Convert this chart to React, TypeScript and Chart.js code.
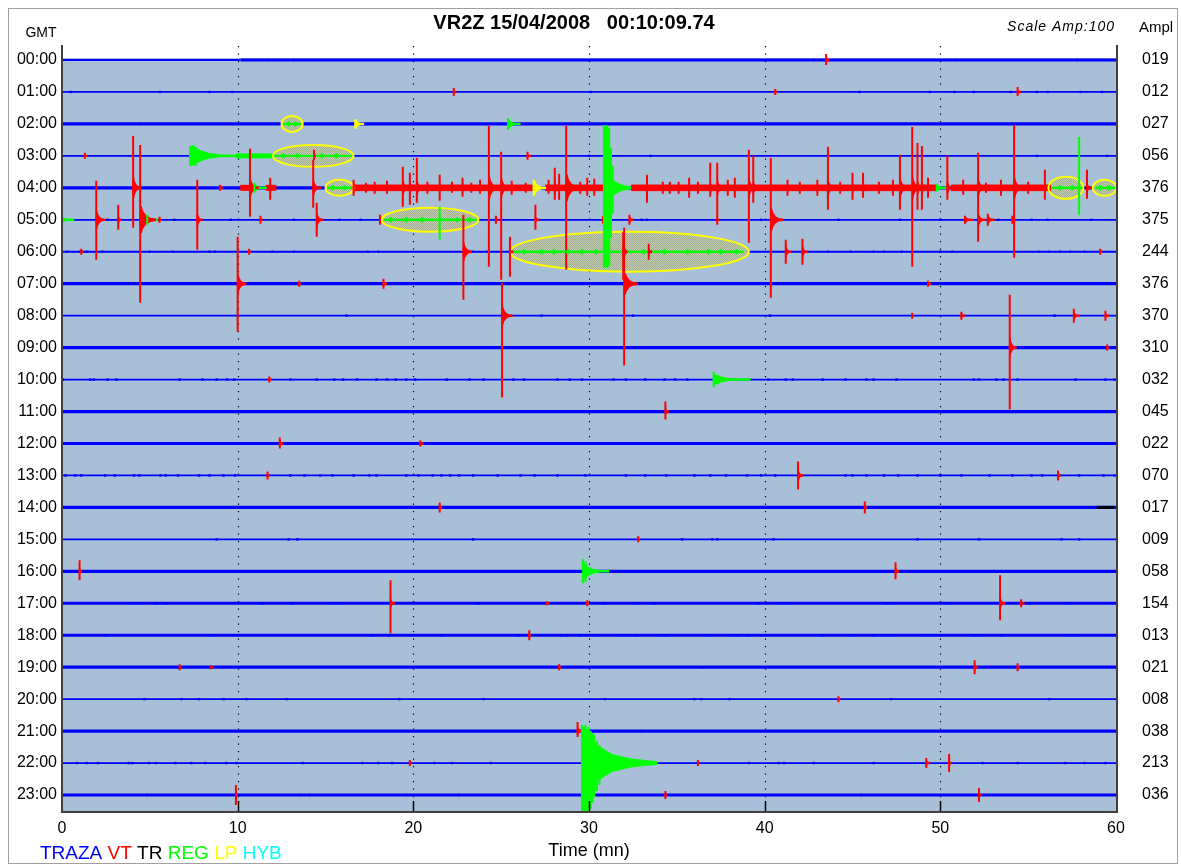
import React, { useEffect, useRef } from "react";
import { Chart, registerables } from "chart.js";

Chart.register(...registerables);

// ---------------- data ----------------
const station = "VR2Z";
const recordDate = "15/04/2008";
const recordStart = "00:10:09.74";
const scaleAmpText = "Scale Amp:100";

const hourLabels = [
  "00:00", "01:00", "02:00", "03:00", "04:00", "05:00", "06:00", "07:00",
  "08:00", "09:00", "10:00", "11:00", "12:00", "13:00", "14:00", "15:00",
  "16:00", "17:00", "18:00", "19:00", "20:00", "21:00", "22:00", "23:00",
];
const amplLabels = [
  "019", "012", "027", "056", "376", "375", "244", "376", "370", "310", "032", "045",
  "022", "070", "017", "009", "058", "154", "013", "021", "008", "038", "213", "036",
];
const timeTicks = [0, 10, 20, 30, 40, 50, 60];
const minuteGuides = [10, 20, 30, 40, 50];
const firstTraceStart = 10 + 9.74 / 60; // record starts 00:10:09.74
const quietRows = [0, 2, 4, 7, 9, 11, 12, 14, 16, 17, 18, 19, 21, 23];

const legendWords = ["TRAZA", "VT", "TR", "REG", "LP", "HYB"];

// events: [row, minute, up, down, coda, codaMinutes]  (amplitudes in trace units, 32 = one row)
const vtEvents = [
  [0, 43.5, 6, 5, 4, 0.2],
  [1, 22.3, 4, 4, 3, 0.15], [1, 40.6, 3, 3, 2, 0.12], [1, 54.4, 5, 4, 3, 0.2],
  [3, 1.3, 3, 3, 3, 0.12], [3, 14.35, 6, 4, 3, 0.1], [3, 26.5, 4, 4, 3, 0.2],
  [4, 4.05, 52, 40, 12, 0.45], [4, 9.0, 3, 3, 3, 0.15], [4, 10.7, 39, 29, 10, 0.5],
  [4, 11.85, 10, 12, 6, 0.3], [4, 14.3, 28, 20, 8, 0.45],
  [4, 16.6, 8, 8, 6, 0.3], [4, 17.3, 5, 5, 4, 0.2], [4, 17.8, 6, 6, 5, 0.2], [4, 18.5, 7, 6, 5, 0.2],
  [4, 19.4, 21, 19, 8, 0.4], [4, 19.8, 15, 17, 7, 0.3], [4, 20.2, 30, 15, 8, 0.4],
  [4, 20.8, 6, 6, 5, 0.2], [4, 21.5, 13, 13, 6, 0.3], [4, 22.2, 6, 5, 5, 0.2],
  [4, 22.8, 10, 9, 5, 0.3], [4, 23.3, 5, 5, 4, 0.2], [4, 23.8, 8, 6, 5, 0.2],
  [4, 24.3, 62, 79, 12, 0.6], [4, 25.0, 36, 92, 10, 0.5], [4, 25.6, 7, 7, 5, 0.2],
  [4, 26.4, 5, 5, 4, 0.2], [4, 27.7, 8, 6, 5, 0.2], [4, 28.05, 20, 12, 8, 0.3],
  [4, 28.3, 14, 12, 6, 0.2], [4, 28.7, 62, 82, 14, 0.8], [4, 29.5, 6, 6, 5, 0.2],
  [4, 29.9, 10, 8, 5, 0.2], [4, 30.3, 9, 8, 5, 0.2],
  [4, 33.3, 13, 15, 6, 0.3], [4, 34.2, 6, 6, 5, 0.2], [4, 34.6, 6, 6, 5, 0.2],
  [4, 35.1, 6, 6, 5, 0.2], [4, 35.7, 10, 10, 6, 0.2], [4, 36.2, 6, 6, 5, 0.2],
  [4, 36.9, 25, 9, 7, 0.3], [4, 37.3, 25, 32, 8, 0.4], [4, 37.9, 8, 8, 5, 0.2],
  [4, 38.3, 10, 10, 6, 0.2], [4, 39.1, 38, 55, 10, 0.4], [4, 39.35, 32, 15, 8, 0.3],
  [4, 41.3, 8, 8, 5, 0.2], [4, 42.0, 6, 6, 5, 0.2], [4, 43.0, 8, 8, 5, 0.2],
  [4, 43.6, 41, 22, 9, 0.4], [4, 44.3, 6, 6, 5, 0.2], [4, 45.0, 15, 12, 6, 0.3], [4, 45.6, 15, 10, 6, 0.3],
  [4, 46.5, 6, 6, 5, 0.2], [4, 47.3, 8, 8, 5, 0.2], [4, 47.7, 33, 22, 10, 0.5],
  [4, 48.4, 61, 79, 12, 0.5], [4, 48.7, 45, 22, 8, 0.3], [4, 48.95, 42, 22, 8, 0.3],
  [4, 49.3, 10, 10, 6, 0.3], [4, 50.4, 32, 12, 8, 0.3], [4, 51.3, 8, 7, 5, 0.2],
  [4, 52.15, 35, 15, 10, 0.4], [4, 52.6, 5, 5, 5, 0.3], [4, 53.45, 8, 8, 5, 0.2],
  [4, 54.2, 63, 70, 12, 0.5], [4, 55.0, 6, 6, 5, 0.3], [4, 55.95, 18, 12, 6, 0.2],
  [4, 58.35, 18, 11, 6, 0.25],
  [5, 1.95, 39, 40, 10, 0.5], [5, 3.2, 15, 10, 6, 0.2], [5, 4.45, 75, 83, 14, 0.9],
  [5, 5.55, 3, 3, 3, 0.1], [5, 7.7, 40, 30, 8, 0.3], [5, 11.3, 4, 4, 3, 0.12],
  [5, 14.5, 17, 17, 7, 0.4], [5, 18.1, 5, 5, 4, 0.12], [5, 24.7, 4, 4, 4, 0.15],
  [5, 26.95, 15, 10, 5, 0.2], [5, 30.8, 4, 4, 4, 0.12], [5, 32.3, 5, 5, 4, 0.25],
  [5, 37.3, 5, 5, 4, 0.12], [5, 40.35, 62, 78, 12, 0.7], [5, 51.4, 4, 4, 4, 0.45],
  [5, 52.15, 17, 22, 7, 0.4], [5, 52.7, 6, 6, 5, 0.4], [5, 54.1, 4, 4, 3, 0.1],
  [6, 1.1, 3, 3, 3, 0.1], [6, 10.65, 3, 3, 3, 0.1], [6, 22.85, 37, 48, 10, 0.5],
  [6, 25.5, 15, 25, 6, 0.2], [6, 31.95, 20, 28, 14, 0.25], [6, 33.4, 8, 8, 5, 0.2],
  [6, 41.2, 12, 12, 7, 0.3], [6, 42.15, 13, 13, 7, 0.3], [6, 59.1, 3, 3, 3, 0.12],
  [7, 10.0, 47, 48, 10, 0.5], [7, 13.5, 3, 3, 3, 0.1], [7, 18.3, 5, 5, 4, 0.2],
  [7, 32.0, 56, 82, 12, 0.8], [7, 49.3, 3, 3, 3, 0.2],
  [8, 25.05, 33, 82, 10, 0.6], [8, 48.4, 3, 3, 3, 0.1], [8, 51.2, 4, 4, 4, 0.2],
  [8, 57.6, 7, 7, 5, 0.3], [8, 59.4, 5, 5, 4, 0.2],
  [9, 53.95, 53, 62, 10, 0.4], [9, 59.5, 3, 3, 3, 0.1],
  [10, 11.8, 3, 3, 3, 0.12],
  [11, 34.35, 10, 8, 5, 0.2],
  [12, 12.4, 6, 5, 4, 0.2], [12, 20.4, 3, 3, 3, 0.2],
  [13, 11.7, 4, 4, 3, 0.12], [13, 41.9, 14, 14, 7, 0.3], [13, 56.7, 5, 5, 3, 0.15],
  [14, 21.5, 5, 5, 4, 0.15], [14, 45.7, 6, 6, 4, 0.15],
  [15, 32.8, 3, 3, 3, 0.1],
  [16, 1.0, 11, 9, 5, 0.15], [16, 47.45, 9, 8, 5, 0.2],
  [17, 18.7, 23, 30, 6, 0.25], [17, 27.6, 2, 2, 3, 0.15], [17, 29.9, 3, 3, 3, 0.1],
  [17, 53.4, 28, 17, 7, 0.3], [17, 54.6, 4, 4, 3, 0.2],
  [18, 26.6, 5, 5, 3, 0.1],
  [19, 6.7, 3, 3, 3, 0.1], [19, 8.5, 2, 2, 3, 0.1], [19, 28.3, 3, 3, 3, 0.1],
  [19, 51.95, 7, 7, 5, 0.2], [19, 54.4, 4, 4, 3, 0.1],
  [20, 44.2, 3, 3, 3, 0.1],
  [21, 29.35, 9, 6, 5, 0.3],
  [22, 19.8, 3, 3, 3, 0.1], [22, 36.2, 3, 3, 3, 0.1], [22, 49.2, 5, 5, 4, 0.2],
  [22, 50.5, 9, 9, 5, 0.15],
  [23, 9.9, 10, 10, 4, 0.12], [23, 34.35, 4, 4, 3, 0.1], [23, 52.2, 7, 7, 5, 0.15],
];

const regEvents = [
  [2, 25.4, 6, 6, 5, 0.7],
  [3, 7.3, 10, 10, 10, 2.6], [3, 7.45, 11, 9, 9, 0.4], [3, 7.6, 9, 10, 8, 0.3],
  [4, 10.95, 5, 5, 4, 0.7],
  [4, 30.85, 63, 80, 22, 1.55], [4, 30.95, 63, 80, 20, 0.3], [4, 31.05, 62, 80, 18, 0.3],
  [4, 31.15, 60, 78, 16, 0.3], [4, 31.25, 40, 50, 12, 0.3], [4, 31.35, 22, 26, 8, 0.3],
  [4, 49.8, 4, 4, 3, 0.8],
  [4, 57.9, 51, 27, 4, 0.2],
  [5, 0.0, 4, 4, 3, 0.7],
  [5, 4.85, 5, 5, 4, 0.6],
  [5, 21.5, 13, 20, 4, 0.15],
  [10, 37.1, 8, 8, 5, 2.1],
  [16, 29.65, 12, 12, 8, 1.5], [16, 29.8, 10, 11, 7, 0.3],
  [22, 29.6, 38, 50, 30, 4.3], [22, 29.7, 36, 50, 30, 0.5], [22, 29.8, 38, 50, 30, 0.5],
  [22, 29.9, 34, 50, 28, 0.5], [22, 30.0, 36, 50, 26, 0.5], [22, 30.1, 32, 46, 24, 0.5],
  [22, 30.2, 30, 40, 22, 0.5], [22, 30.3, 28, 34, 20, 0.5], [22, 30.45, 22, 28, 16, 0.5],
  [22, 30.6, 18, 22, 14, 0.5],
];

const lpEvents = [
  [2, 16.7, 5, 5, 5, 0.5],
  [4, 26.85, 8, 8, 8, 0.7],
];

// continuous segments: [row, fromMinute, toMinute, halfWidth]
const vtBands = [
  [4, 10.15, 11.0, 3], [4, 11.6, 12.2, 3],
  [4, 16.5, 26.8, 3.3], [4, 27.5, 30.85, 3.3], [4, 32.4, 49.75, 3.3], [4, 50.6, 56.3, 3.3],
];
const regTraces = [
  [2, 12.55, 13.65, 1.2], [3, 9.9, 12.0, 2.5], [3, 12.0, 16.6, 1], [4, 15.1, 16.5, 1.2],
  [5, 18.3, 23.6, 1.2], [6, 25.6, 38.8, 1.2], [4, 56.3, 58.1, 1.2], [4, 58.8, 60, 1.2],
];
const trTraces = [[14, 58.9, 59.9, 1.5]];

// marked windows: [row, centreMinute, halfWidthMinutes, halfHeight]
const markedWindows = [
  [2, 13.1, 0.6, 8], [3, 14.3, 2.3, 11], [4, 15.8, 0.8, 8], [5, 20.95, 2.75, 12],
  [6, 32.3, 6.8, 20], [4, 57.15, 1.0, 11], [4, 59.35, 0.68, 8],
];

// small REG wavelets inside marked windows: [row, minute]
const regWavelets = [
  [2, 12.9], [2, 13.3],
  [3, 12.6], [3, 13.4], [3, 14.8], [3, 15.6],
  [4, 15.4], [4, 16.1], [4, 56.8], [4, 57.5], [4, 59.1], [4, 59.6],
  [5, 18.7], [5, 19.6], [5, 20.5], [5, 22.5], [5, 23.2],
  [6, 26.3], [6, 27.3], [6, 28.0], [6, 28.8], [6, 29.6], [6, 30.4], [6, 33.1],
  [6, 34.3], [6, 35.6], [6, 36.8], [6, 37.5], [6, 38.4],
];

// background trace glitches: minutes per row
const blipRows = [0, 1, 2, 3, 5, 6, 8, 9, 10, 11, 12, 13, 14, 15, 17, 18, 19, 20, 21, 22, 23];
const blipMinutes = [
  [11.7, 13.2, 42.8, 50.9, 57.8],
  [0.5, 5.6, 8.4, 9.7, 30.1, 45.4, 49.4, 50.8, 51.9, 54.0, 55.5, 56.1, 58.0, 59.2],
  [4.5],
  [30.0, 33.5, 55.5, 59.5],
  [2.6, 6.4, 9.6, 13.2, 15.8, 17.0, 33.0, 33.3, 39.8, 44.2, 47.7, 50.0, 53.3, 55.2, 56.1, 58.6],
  [0.3, 1.0, 1.4, 2.3, 5.0, 6.3, 8.4, 8.7, 12.0, 13.2, 17.4, 18.0, 23.4, 24.2, 43.6, 44.9,
    46.2, 46.8, 47.8, 50.0, 50.7, 55.6, 56.2, 56.8, 57.4, 58.2],
  [10.0, 16.2, 27.3, 32.5, 40.3, 56.5],
  [32.6],
  [0.05, 1.6, 1.8, 2.6, 3.1, 6.7, 8.0, 8.8, 9.4, 9.8, 13.0, 14.5, 15.5, 16.0, 16.8, 17.9,
    18.5, 19.0, 19.6, 20.1, 21.9, 23.2, 24.0, 25.7, 26.3, 28.2, 28.9, 29.6, 31.4, 32.1, 33.2,
    34.3, 34.9, 35.6, 40.2, 41.2, 41.6, 43.3, 44.6, 45.8, 46.2, 47.5, 51.9, 52.2, 53.2, 53.6,
    54.4, 57.7, 59.4, 59.9],
  [42.9],
  [4.2],
  [0.2, 0.75, 1.1, 2.45, 3.0, 4.1, 4.4, 5.6, 5.9, 6.6, 7.8, 8.4, 9.2, 9.85, 13.0, 13.8, 14.7,
    15.4, 16.6, 17.5, 17.9, 19.6, 20.3, 21.1, 21.6, 22.1, 22.6, 23.4, 24.8, 26.1, 26.9, 28.2,
    29.8, 32.1, 33.2, 34.4, 36.0, 36.9, 37.8, 39.0, 39.8, 40.6, 44.6, 45.0, 45.8, 46.8, 47.6,
    48.7, 50.0, 51.2, 52.8, 54.1, 55.2, 55.8, 57.9, 59.3, 59.9],
  [49.98],
  [8.8, 12.9, 13.4, 23.4, 35.3, 37.0, 37.3, 40.5, 48.7, 52.2, 56.9, 57.9],
  [4.2, 5.3, 5.9, 11.4, 13.1, 15.6, 23.7, 30.8, 32.6, 33.7, 39.7, 41.1, 47.0, 50.5, 55.1, 57.2],
  [2.45, 8.6, 17.7, 18.6, 21.6, 26.0, 28.4, 28.7, 29.5, 30.3, 32.0, 32.7, 34.3, 36.7, 38.4,
    39.1, 39.8, 43.3, 44.9, 46.2, 47.0, 49.3, 50.0, 52.0, 53.5, 57.5],
  [36.5],
  [4.7, 6.8, 7.8, 9.2, 10.5, 12.8, 19.2, 24.0, 30.9, 36.0, 36.4, 38.0, 47.2, 56.2],
  [33.0],
  [0.85, 1.4, 2.05, 3.8, 4.0, 4.95, 5.35, 6.45, 7.35, 8.15, 9.35, 9.95, 13.7, 17.1, 18.0,
    18.8, 21.2, 22.2, 24.4, 39.1, 40.8, 41.1, 42.8, 46.2, 52.4, 54.4, 57.1, 58.2, 59.4],
  [4.85, 13.55, 14.1, 19.6, 22.6, 45.5],
];

// ---------------- styles ----------------
const FONT = "'Liberation Sans', Arial, Helvetica, sans-serif";
const PLOT_BG = "#a7c0d8";
const TRAZA = "#0000ff";
const VT = "#ff0000";
const TR = "#000000";
const REG = "#00ff00";
const LP = "#ffff00";
const HYB = "#00ffff";
const legendColors = [TRAZA, VT, TR, REG, LP, HYB];
const AMP_PER_ROW = 32;
const decayShape = [[0, 1], [0.1, 0.95], [0.2, 0.6], [0.4, 0.3], [0.65, 0.15], [1, 0.06]];

// ---------------- builders ----------------
function baselineData(thick: boolean) {
  const out: any[] = [];
  hourLabels.forEach((_, r) => {
    const quiet = quietRows.includes(r);
    if (r === 0) {
      if (thick) out.push({ x: firstTraceStart, y: 0 }, { x: 60, y: 0 }, { x: 60, y: null });
      else out.push({ x: 0, y: 0 }, { x: firstTraceStart, y: 0 }, { x: firstTraceStart, y: null });
      return;
    }
    if (quiet === thick) out.push({ x: 0, y: r }, { x: 60, y: r }, { x: 60, y: null });
  });
  return out;
}

function spikeData(events: number[][]) {
  const out: any[] = [];
  for (const [row, t, up, down] of events) {
    out.push({ x: t, y: row - up / AMP_PER_ROW }, { x: t, y: row + down / AMP_PER_ROW }, { x: t, y: null });
  }
  return out;
}

function blipData() {
  const out: any[] = [];
  blipRows.forEach((row, i) => blipMinutes[i].forEach((t) => out.push({ x: t, y: row })));
  return out;
}

function drawBodies(ctx: CanvasRenderingContext2D, xs: any, ys: any, events: number[][], color: string) {
  ctx.fillStyle = color;
  for (const [row, t, up, down, body, dur] of events) {
    const yr = ys.getPixelForValue(row);
    const k = ys.getPixelForValue(row + 1) - yr;
    const topA = (Math.min(body, up) / AMP_PER_ROW) * k;
    const botA = (Math.min(body, down) / AMP_PER_ROW) * k;
    ctx.beginPath();
    ctx.moveTo(xs.getPixelForValue(t) - 1, yr);
    for (const [f, a] of decayShape) ctx.lineTo(xs.getPixelForValue(t + f * dur), yr - Math.max(topA * a, 1.2));
    for (let i = decayShape.length - 1; i >= 0; i--) {
      const [f, a] = decayShape[i];
      ctx.lineTo(xs.getPixelForValue(t + f * dur), yr + Math.max(botA * a, 1.2));
    }
    ctx.closePath();
    ctx.fill();
  }
}

function drawSegments(ctx: CanvasRenderingContext2D, xs: any, ys: any, segs: number[][], color: string) {
  ctx.fillStyle = color;
  for (const [row, t0, t1, half] of segs) {
    const yr = ys.getPixelForValue(row);
    const k = ys.getPixelForValue(row + 1) - yr;
    const h = Math.max((half / AMP_PER_ROW) * k, 0.8);
    const x0 = xs.getPixelForValue(t0);
    const x1 = xs.getPixelForValue(t1);
    ctx.fillRect(x0, yr - h, x1 - x0, 2 * h);
  }
}

let stipple: CanvasPattern | null = null;
function getStipple(ctx: CanvasRenderingContext2D) {
  if (stipple) return stipple;
  const c = document.createElement("canvas");
  c.width = 2;
  c.height = 2;
  const p = c.getContext("2d")!;
  p.fillStyle = "#c8caa4";
  p.fillRect(0, 0, 2, 2);
  p.fillStyle = "#9cae9f";
  p.fillRect(0, 0, 1, 1);
  p.fillRect(1, 1, 1, 1);
  stipple = ctx.createPattern(c, "repeat");
  return stipple;
}

const seismoPlugin = {
  id: "seismo",
  beforeDraw(chart: any) {
    const { ctx, chartArea: a, scales } = chart;
    ctx.save();
    ctx.fillStyle = "#ffffff";
    ctx.fillRect(0, 0, chart.width, chart.height);
    const y0 = scales.y.getPixelForValue(0) - 2;
    ctx.fillStyle = PLOT_BG;
    ctx.fillRect(a.left, y0, a.right - a.left, a.bottom - y0);
    ctx.strokeStyle = "#000";
    ctx.lineWidth = 1.2;
    ctx.setLineDash([1.2, 6.3]);
    for (const m of minuteGuides) {
      const x = Math.round(scales.x.getPixelForValue(m)) + 0.5;
      ctx.beginPath();
      ctx.moveTo(x, a.top + 1);
      ctx.lineTo(x, a.bottom - 10);
      ctx.stroke();
    }
    ctx.restore();
  },
  afterDatasetDraw(chart: any, args: any) {
    if (chart.data.datasets[args.index].label !== "TRAZA quiet") return;
    const { ctx, scales } = chart;
    const xs = scales.x;
    const ys = scales.y;
    ctx.save();
    for (const [row, t, hw, hh] of markedWindows) {
      const cx = xs.getPixelForValue(t);
      const cy = ys.getPixelForValue(row);
      const rx = xs.getPixelForValue(t + hw) - cx;
      const ry = ys.getPixelForValue(row + hh / AMP_PER_ROW) - cy;
      ctx.beginPath();
      ctx.ellipse(cx, cy, rx, ry, 0, 0, Math.PI * 2);
      ctx.fillStyle = getStipple(ctx);
      ctx.fill();
    }
    drawSegments(ctx, xs, ys, regTraces, REG);
    drawSegments(ctx, xs, ys, vtBands, VT);
    drawSegments(ctx, xs, ys, trTraces, TR);
    drawBodies(ctx, xs, ys, regEvents, REG);
    drawBodies(ctx, xs, ys, lpEvents, LP);
    drawBodies(ctx, xs, ys, vtEvents, VT);
    ctx.strokeStyle = LP;
    ctx.lineWidth = 2;
    for (const [row, t, hw, hh] of markedWindows) {
      const cx = xs.getPixelForValue(t);
      const cy = ys.getPixelForValue(row);
      const rx = xs.getPixelForValue(t + hw) - cx;
      const ry = ys.getPixelForValue(row + hh / AMP_PER_ROW) - cy;
      ctx.beginPath();
      ctx.ellipse(cx, cy, rx, ry, 0, 0, Math.PI * 2);
      ctx.stroke();
    }
    ctx.restore();
  },
  afterDraw(chart: any) {
    const { ctx, chartArea: a, scales } = chart;
    ctx.save();
    ctx.strokeStyle = "#404040";
    ctx.lineWidth = 2;
    ctx.beginPath();
    ctx.moveTo(a.left, a.top);
    ctx.lineTo(a.left, a.bottom + 2);
    ctx.moveTo(a.left - 1, a.bottom + 1);
    ctx.lineTo(a.right + 2, a.bottom + 1);
    ctx.moveTo(a.right + 1, a.top);
    ctx.lineTo(a.right + 1, a.bottom + 2);
    ctx.stroke();
    ctx.strokeStyle = "#000";
    ctx.lineWidth = 1.5;
    for (const m of minuteGuides) {
      const x = Math.round(scales.x.getPixelForValue(m)) + 0.5;
      ctx.beginPath();
      ctx.moveTo(x, a.bottom - 10);
      ctx.lineTo(x, a.bottom);
      ctx.stroke();
    }
    ctx.fillStyle = "#000";
    ctx.textBaseline = "middle";
    ctx.textAlign = "center";
    ctx.font = `bold 20px ${FONT}`;
    ctx.fillText(`${station} ${recordDate}   ${recordStart}`, 565, 14);
    ctx.font = `14px ${FONT}`;
    ctx.fillText("GMT", 32, 24);
    ctx.font = `15px ${FONT}`;
    ctx.fillText("Ampl", 1147, 19);
    ctx.textAlign = "right";
    ctx.font = `italic 14px ${FONT}`;
    try { (ctx as any).letterSpacing = "1px"; } catch (e) { /* ignore */ }
    ctx.fillText(scaleAmpText, 1106, 18);
    try { (ctx as any).letterSpacing = "0px"; } catch (e) { /* ignore */ }
    ctx.textAlign = "left";
    ctx.font = `19px ${FONT}`;
    let x = 31;
    const sp = ctx.measureText(" ").width;
    legendWords.forEach((w, i) => {
      ctx.fillStyle = legendColors[i];
      ctx.fillText(w, x, 845);
      x += ctx.measureText(w).width + sp;
    });
    ctx.restore();
  },
};

export default function App() {
  const ref = useRef<HTMLCanvasElement>(null);
  useEffect(() => {
    const canvas = ref.current!;
    const rowTicks = (s: any) => {
      s.ticks = hourLabels.map((_, i) => ({ value: i }));
    };
    const chart = new Chart(canvas, {
      type: "line",
      data: {
        datasets: [
          { label: "TRAZA active", data: baselineData(false), borderColor: TRAZA, borderWidth: 1.8, pointRadius: 0, spanGaps: false, order: 100 },
          { label: "TRAZA quiet", data: baselineData(true), borderColor: TRAZA, borderWidth: 3.2, pointRadius: 0, spanGaps: false, order: 99 },
          { label: "glitch", data: blipData(), showLine: false, pointStyle: "rect", pointRadius: 1.7, pointBackgroundColor: TRAZA, pointBorderWidth: 0, order: 98 },
          { label: "VT", data: spikeData(vtEvents), borderColor: VT, borderWidth: 2, pointRadius: 0, spanGaps: false, order: 6 },
          { label: "REG", data: spikeData(regEvents), borderColor: REG, borderWidth: 2, pointRadius: 0, spanGaps: false, order: 5 },
          { label: "LP", data: spikeData(lpEvents), borderColor: LP, borderWidth: 2, pointRadius: 0, spanGaps: false, order: 4 },
          { label: "REG wavelets", data: regWavelets.map(([r, t]) => ({ x: t, y: r })), showLine: false, pointStyle: "rectRot", pointRadius: 3, pointBackgroundColor: REG, pointBorderWidth: 0, order: 3 },
        ] as any,
      },
      options: {
        responsive: false,
        animation: false,
        events: [],
        layout: { padding: { top: 36, left: 0, right: 0, bottom: 0 } },
        plugins: { legend: { display: false }, tooltip: { enabled: false }, title: { display: false } },
        scales: {
          x: {
            type: "linear",
            min: 0,
            max: 60,
            afterBuildTicks: (s: any) => { s.ticks = timeTicks.map((v) => ({ value: v })); },
            afterFit: (s: any) => { s.height = 52; },
            grid: { display: false, drawTicks: false },
            border: { display: false },
            ticks: { color: "#000", font: { family: FONT, size: 16 }, padding: 8, maxRotation: 0, autoSkip: false },
            title: { display: true, text: "Time (mn)", color: "#000", font: { family: FONT, size: 18 }, padding: { top: 0, bottom: 1 } },
          },
          y: {
            type: "linear",
            reverse: true,
            min: -0.469,
            max: 23.5,
            position: "left",
            afterBuildTicks: rowTicks,
            afterFit: (s: any) => { s.width = 53; },
            grid: { display: false, drawTicks: false },
            border: { display: false },
            ticks: { color: "#000", font: { family: FONT, size: 16 }, padding: 5, autoSkip: false, callback: (v: any) => hourLabels[v] },
          },
          y2: {
            type: "linear",
            reverse: true,
            min: -0.469,
            max: 23.5,
            position: "right",
            afterBuildTicks: rowTicks,
            afterFit: (s: any) => { s.width = 61; },
            grid: { display: false, drawTicks: false },
            border: { display: false },
            ticks: { color: "#000", font: { family: FONT, size: 16 }, padding: 26, autoSkip: false, callback: (v: any) => amplLabels[v] },
          },
        },
      } as any,
      plugins: [seismoPlugin],
    });
    return () => chart.destroy();
  }, []);
  return (
    <div
      style={{
        position: "fixed",
        left: 8,
        top: 8,
        width: 1170,
        height: 856,
        border: "1px solid #a0a0a0",
        boxSizing: "border-box",
        background: "#fff",
      }}
    >
      <canvas ref={ref} width={1168} height={854} style={{ display: "block" }} />
    </div>
  );
}
